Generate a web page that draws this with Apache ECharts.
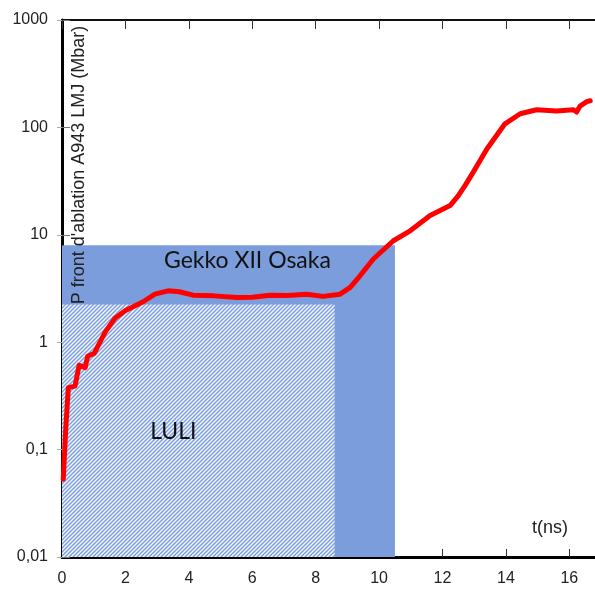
<!DOCTYPE html>
<html>
<head>
<meta charset="utf-8">
<script src="https://cdn.jsdelivr.net/npm/echarts@6/dist/echarts.min.js"></script>
<style>
html,body{margin:0;padding:0;background:#fff;}
#c{width:595px;height:590px;}
</style>
</head>
<body>
<div id="c"></div>
<script>
// ---- data ----
const tValues = [0.04, 0.12, 0.2, 0.41, 0.54, 0.73, 0.81, 1.02, 1.36, 1.67, 1.99, 2.56, 2.93, 3.34, 3.7, 4.13, 4.8, 5.51, 6.0, 6.56, 7.1, 7.72, 8.23, 8.77, 9.09, 9.4, 9.82, 10.45, 10.98, 11.61, 12.24, 12.5, 12.72, 12.97, 13.4, 13.97, 14.45, 14.97, 15.6, 16.13, 16.23, 16.34, 16.55, 16.66];
const pValues = [0.053, 0.16, 0.378, 0.39, 0.61, 0.58, 0.74, 0.79, 1.24, 1.67, 1.96, 2.38, 2.8, 3.01, 2.95, 2.74, 2.7, 2.61, 2.62, 2.74, 2.72, 2.8, 2.67, 2.8, 3.24, 4.15, 5.95, 8.8, 10.9, 15.1, 18.7, 23.2, 29.0, 38.3, 63, 108, 134, 146, 142, 146, 139, 158, 174, 177];
const gekkoT = [0, 10.5];
const gekkoP = [0.01, 8];
const luliT = [0, 8.6];
const luliP = [0.01, 2.25];
const xTicks = [0, 2, 4, 6, 8, 10, 12, 14, 16];
const yTickLabels = ['0,01', '0,1', '1', '10', '100', '1000'];
const yTitle = "P front d'ablation A943 LMJ (Mbar)";
const xTitle = 't(ns)';
const gekkoLabel = 'Gekko XII Osaka';
const luliLabel = 'LULI';

// hatch pattern
const pc = document.createElement('canvas');
pc.width = 4; pc.height = 4;
const g = pc.getContext('2d');
g.fillStyle = '#7d9fe0';
g.fillRect(0, 0, 4, 4);
g.strokeStyle = 'rgba(255,255,255,0.95)';
g.lineWidth = 1.3;
g.beginPath();
g.moveTo(0, 4); g.lineTo(4, 0);
g.moveTo(-1, 1); g.lineTo(1, -1);
g.moveTo(3, 5); g.lineTo(5, 3);
g.stroke();

const lineData = tValues.map((t, i) => [t, pValues[i]]);
const fmtY = v => {
  const n = Number(Number(v).toPrecision(3));
  return String(n).replace('.', ',');
};

const chart = echarts.init(document.getElementById('c'), null, {renderer: 'canvas'});
chart.setOption({
  animation: false,
  backgroundColor: '#fff',
  grid: {left: 62, top: 20, right: 0, bottom: 33, containLabel: false},
  xAxis: [{
    type: 'value', min: 0, max: 16.81, interval: 2, position: 'bottom',
    axisLine: {show: true, lineStyle: {color: '#000', width: 3}},
    axisTick: {show: true, inside: true, length: 8, lineStyle: {color: '#333', width: 1}},
    axisLabel: {show: true, margin: 14, fontSize: 16, color: '#222', fontFamily: 'Liberation Sans, Arial', showMaxLabel: false,
      formatter: v => xTicks.indexOf(v) >= 0 ? String(v) : ''},
    splitLine: {show: false}
  }, {
    type: 'value', min: 0, max: 16.81, interval: 2, position: 'top',
    axisLine: {show: true, onZero: false, lineStyle: {color: '#111', width: 2}},
    axisTick: {show: true, inside: true, length: 9, lineStyle: {color: '#333', width: 1}},
    axisLabel: {show: false}, splitLine: {show: false}
  }],
  yAxis: [{
    type: 'log', logBase: 10, min: 0.01, max: 1000, position: 'left',
    axisLine: {show: true, onZero: false, lineStyle: {color: '#000', width: 3}},
    axisTick: {show: true, inside: true, length: 8, lineStyle: {color: '#777', width: 1}},
    axisLabel: {show: true, margin: 14, fontSize: 16, color: '#222', fontFamily: 'Liberation Sans, Arial',
      formatter: v => { const s = fmtY(v); return yTickLabels.indexOf(s) >= 0 ? s : ''; }},
    splitLine: {show: false}
  }, {
    type: 'log', logBase: 10, min: 0.01, max: 1000, position: 'right',
    axisLine: {show: false},
    axisTick: {show: true, inside: true, length: 5, lineStyle: {color: '#aaa', width: 1}},
    axisLabel: {show: false}, splitLine: {show: false}
  }],
  graphic: [
    {type: 'text', x: 79, y: 165, rotation: Math.PI / 2, z: 100,
      style: {text: yTitle, fontSize: 18, fill: '#222', fontFamily: 'Liberation Sans, Arial', align: 'center', verticalAlign: 'middle'}},
    {type: 'text', x: 550, y: 528, z: 100,
      style: {text: xTitle, fontSize: 18, fill: '#222', fontFamily: 'Liberation Sans, Arial', align: 'center', verticalAlign: 'middle'}}
  ],
  series: [{
    type: 'line', data: [], z: 1, silent: true,
    markArea: {
      silent: true,
      itemStyle: {color: '#7b9ddc', opacity: 1},
      label: {show: true, position: 'insideTop', distance: 4, offset: [19, 0], fontSize: 23, color: '#111', fontFamily: 'Lato, Open Sans, sans-serif'},
      data: [[{coord: [gekkoT[0], gekkoP[0]], name: gekkoLabel}, {coord: [gekkoT[1], gekkoP[1]]}]]
    }
  }, {
    type: 'line', data: [], z: 2, silent: true,
    markArea: {
      silent: true,
      itemStyle: {color: {image: pc, repeat: 'repeat'}, opacity: 1},
      label: {show: true, position: 'inside', offset: [-25, 1], fontSize: 23, color: '#111', fontFamily: 'Lato, Open Sans, sans-serif'},
      data: [[{coord: [luliT[0], luliP[0]], name: luliLabel}, {coord: [luliT[1], luliP[1]]}]]
    }
  }, {
    type: 'line', data: lineData, z: 5, symbol: 'none', smooth: false,
    lineStyle: {color: '#ff0000', width: 5, join: 'round', cap: 'round'}
  }]
});
</script>
</body>
</html>
